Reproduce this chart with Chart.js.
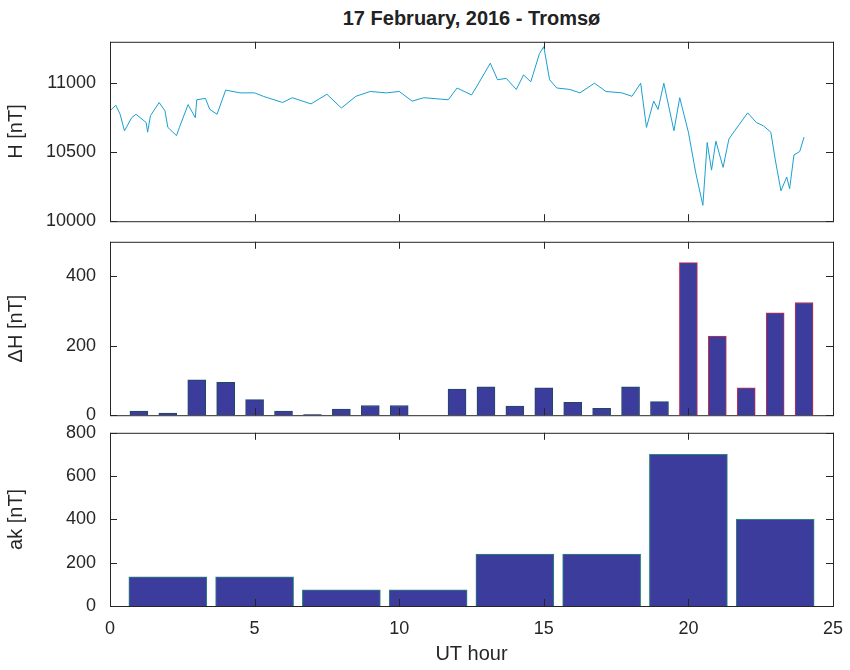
<!DOCTYPE html>
<html><head><meta charset="utf-8">
<script src="https://cdn.jsdelivr.net/npm/chart.js@4"></script>
<style>
body{margin:0;background:#fff;width:850px;height:670px;position:relative;overflow:hidden;font-family:"Liberation Sans",Arial,sans-serif}
.p{position:absolute;left:0;width:850px}
#title{position:absolute;top:7px;left:110px;width:723px;text-align:center;font-weight:bold;font-size:20px;color:#222}
</style></head><body>
<div id="title">17 February, 2016 - Tromsø</div>
<div class="p" style="top:25px;height:213px"><canvas id="c1"></canvas></div>
<div class="p" style="top:225px;height:207px"><canvas id="c2"></canvas></div>
<div class="p" style="top:416px;height:254px"><canvas id="c3"></canvas></div>
<script>
const hTime=[0,0.2,0.35,0.5,0.75,0.9,1.25,1.3,1.4,1.7,1.9,2.0,2.3,2.4,2.7,2.95,3.0,3.3,3.45,3.7,4.0,4.5,5.0,5.3,5.97,6.3,6.95,7.5,8.0,8.5,9.0,9.55,10.0,10.45,10.85,11.7,12.0,12.5,12.65,13.15,13.4,13.7,14.05,14.3,14.55,14.85,15.0,15.2,15.45,15.9,16.25,16.75,17.15,17.7,18.05,18.35,18.55,18.8,18.95,19.15,19.5,19.7,20.0,20.25,20.5,20.65,20.8,20.95,21.2,21.4,21.6,22.05,22.35,22.6,22.85,23.0,23.2,23.4,23.5,23.65,23.85,24.0];
const hValues=[10800,10840,10775,10655,10750,10775,10715,10645,10765,10860,10800,10680,10620,10680,10845,10750,10880,10890,10810,10775,10950,10930,10930,10905,10860,10895,10850,10920,10820,10905,10940,10930,10940,10870,10895,10880,10965,10915,10965,11145,11025,11035,10955,11060,11010,11215,11265,11025,10965,10955,10930,11000,10940,10930,10905,11000,10680,10870,10810,11000,10655,10895,10645,10355,10115,10570,10370,10580,10390,10595,10655,10785,10715,10690,10645,10450,10220,10320,10235,10480,10505,10610];
const dhHours=[1,2,3,4,5,6,7,8,9,10,11,12,13,14,15,16,17,18,19,20,21,22,23,24];
const dhValues=[12,6,102,95,45,12,2,18,28,28,0,75,82,26,79,37,20,82,39,440,228,79,295,325];
const akHours=[2,5,8,11,14,17,20,23];
const akValues=[135,135,75,75,240,240,700,400];
const xTicks=[0,5,10,15,20,25];

const FONT="'Liberation Sans', Arial, sans-serif";
const frame={id:'frame',afterDraw(c){const a=c.chartArea,ctx=c.ctx;ctx.save();ctx.strokeStyle='#262626';ctx.lineWidth=1;
ctx.strokeRect(a.left+0.5,a.top+0.5,a.right-a.left,a.bottom-a.top);
const xs=c.scales.x,ys=c.scales.y;
xTicks.forEach(v=>{const p=Math.round(xs.getPixelForValue(v))+0.5;ctx.beginPath();ctx.moveTo(p,a.bottom);ctx.lineTo(p,a.bottom-7);ctx.moveTo(p,a.top);ctx.lineTo(p,a.top+7);ctx.stroke();});
ys.ticks.forEach(t=>{const p=Math.round(ys.getPixelForValue(t.value))+0.5;ctx.beginPath();ctx.moveTo(a.left,p);ctx.lineTo(a.left+7,p);ctx.moveTo(a.right,p);ctx.lineTo(a.right-7,p);ctx.stroke();});
ctx.restore();}};

function yAxis(min,max,ticks,label){return {min,max,grid:{display:false},border:{display:false},
afterFit(s){s.width=110;},afterBuildTicks(s){s.ticks=ticks.map(v=>({value:v}));},
ticks:{color:'#262626',font:{family:FONT,size:18},padding:6,callback:v=>String(v)},
title:{display:true,text:label,color:'#262626',font:{family:FONT,size:20},padding:{bottom:4}}};}
function xAxis(show){return {type:'linear',min:0,max:25,offset:false,display:show,grid:{display:false,offset:false},border:{display:false},
afterBuildTicks(s){s.ticks=xTicks.map(v=>({value:v}));},afterFit(s){if(show)s.height=64;},
ticks:{color:'#262626',font:{family:FONT,size:18},padding:4,maxRotation:0,callback:v=>String(v)},
title:{display:show,text:'UT hour',color:'#262626',font:{family:FONT,size:20},padding:{top:0}}};}
const base={responsive:true,maintainAspectRatio:false,animation:false,plugins:{legend:{display:false},tooltip:{enabled:false}}};

new Chart(document.getElementById('c1'),{type:'line',
data:{datasets:[{data:hTime.map((t,i)=>({x:t,y:hValues[i]})),borderColor:'#1a9fd0',borderWidth:1,pointRadius:0,tension:0}]},
options:{...base,layout:{padding:{top:10,bottom:10,right:17}},scales:{x:xAxis(false),y:yAxis(10000,11300,[10000,10500,11000],'H [nT]')}},plugins:[frame]});

new Chart(document.getElementById('c2'),{type:'bar',
data:{datasets:[{data:dhHours.map((t,i)=>({x:t,y:dhValues[i]})),backgroundColor:'#3c3c9c',
borderColor:dhHours.map(h=>h>=20?'#c8304a':'#1e4a60'),borderWidth:1,barThickness:18}]},
options:{...base,layout:{padding:{top:10,bottom:10,right:17}},scales:{x:xAxis(false),y:yAxis(0,500,[0,200,400],'ΔH [nT]')}},plugins:[frame]});

new Chart(document.getElementById('c3'),{type:'bar',
data:{datasets:[{data:akHours.map((t,i)=>({x:t,y:akValues[i]})),backgroundColor:'#3c3c9c',
borderColor:'#2a8a7a',borderWidth:1,barThickness:78}]},
options:{...base,layout:{padding:{top:10,bottom:0,right:17}},scales:{x:xAxis(true),y:yAxis(0,800,[0,200,400,600,800],'ak [nT]')}},plugins:[frame]});
</script></body></html>
